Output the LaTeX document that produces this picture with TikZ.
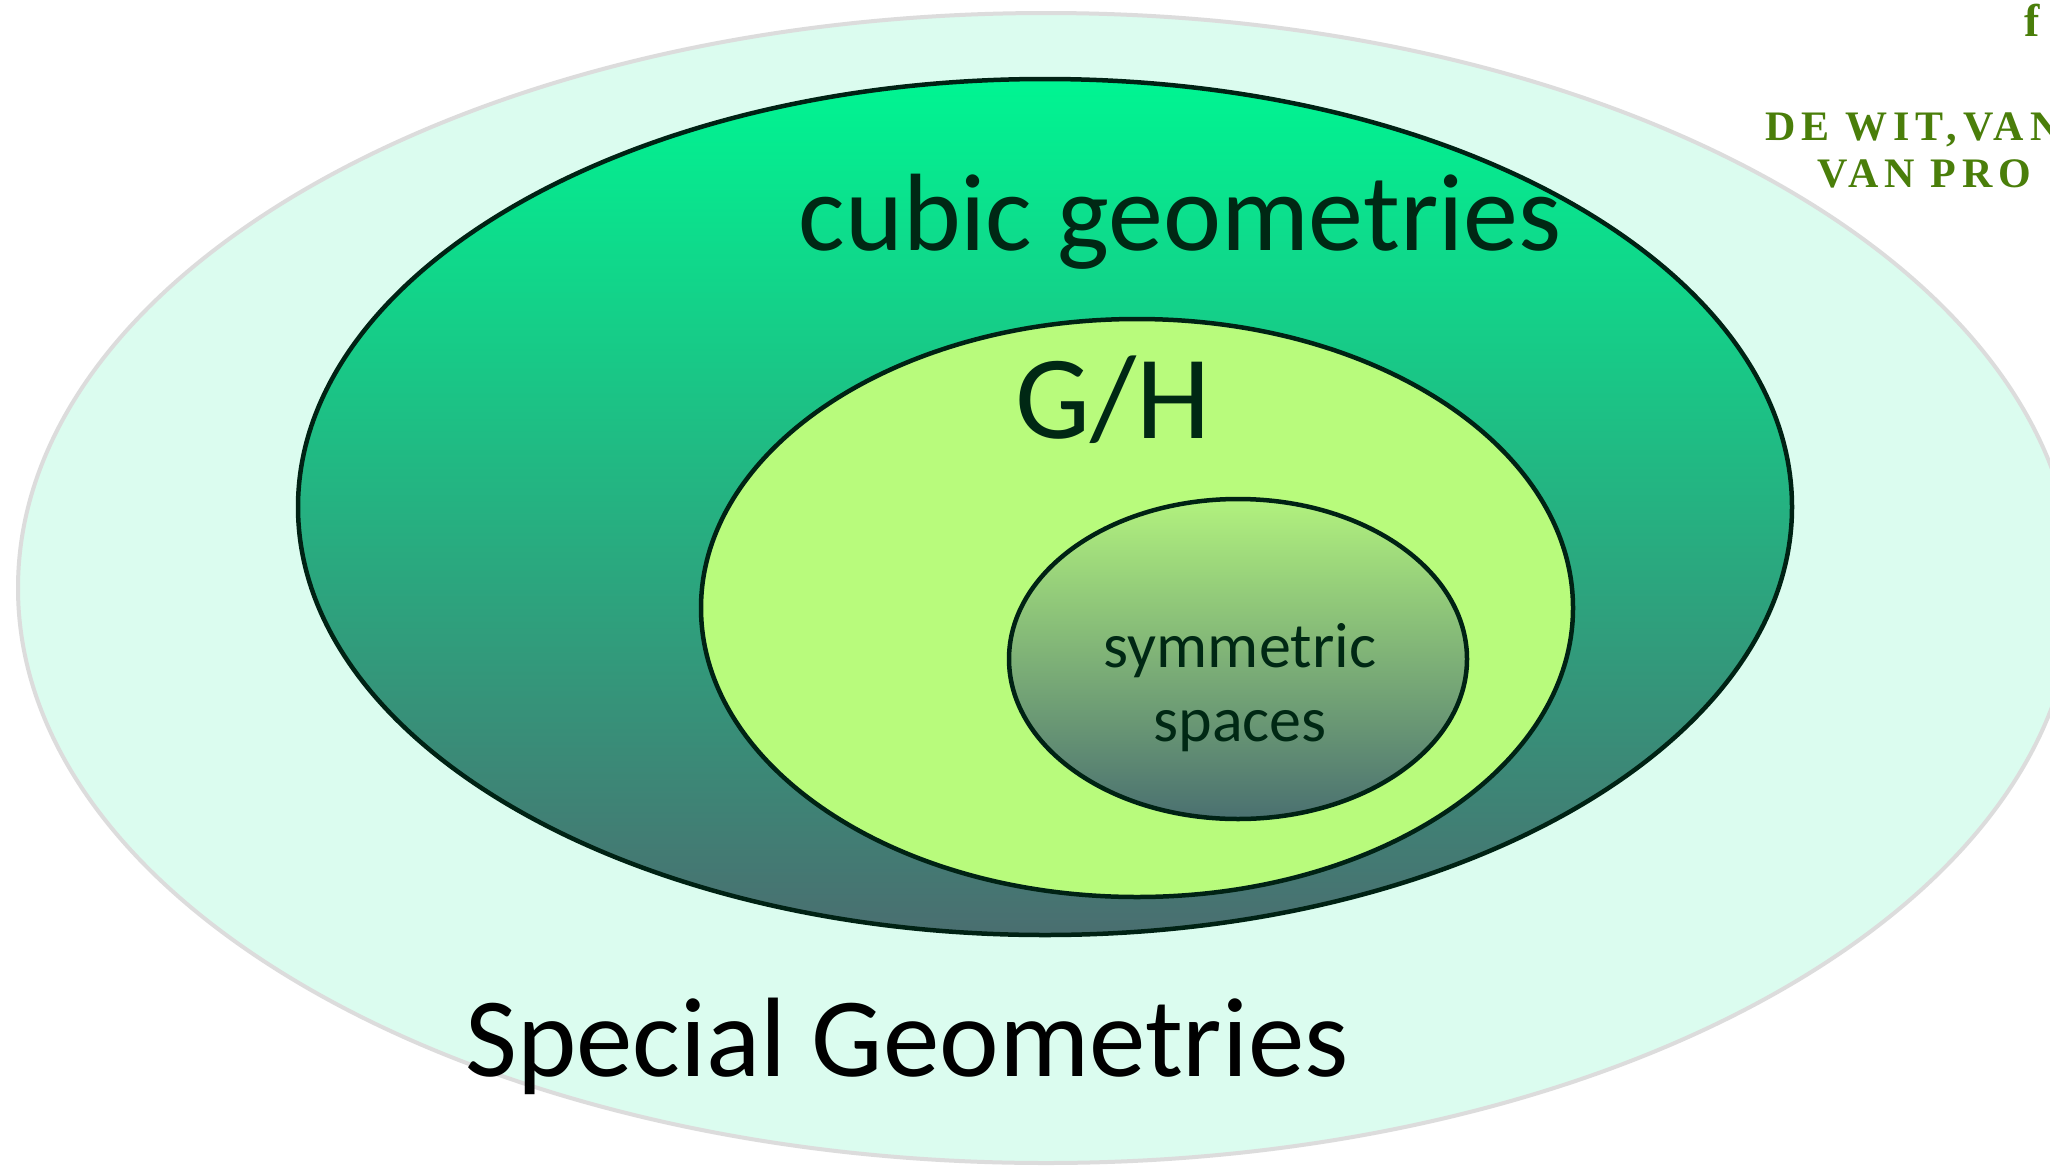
\documentclass[tikz,border=0pt]{standalone}
\usepackage{fontspec}
\setmainfont{Carlito}
\newfontfamily\reffont[LetterSpace=14]{Liberation Serif}
\definecolor{outerfill}{HTML}{DBFCEF}
\definecolor{outerline}{HTML}{DCDCDC}
\definecolor{cubictop}{HTML}{00F592}
\definecolor{cubicmid}{HTML}{0DC482}
\definecolor{cubicbot}{HTML}{4A6E70}
\definecolor{ghfill}{HTML}{B8FB7C}
\definecolor{symtop}{HTML}{B2F27E}
\definecolor{symbot}{HTML}{4A7070}
\definecolor{edge}{HTML}{002214}
\definecolor{labelc}{HTML}{002814}
\definecolor{refc}{HTML}{4A7E0A}
\tikzset{
  ringline/.style={draw=edge, line width=4.5pt},
  biglabel/.style={inner sep=0pt, anchor=base, text=labelc},
  reflabel/.style={inner sep=0pt, anchor=base west, text=refc, font=\reffont\bfseries\fontsize{42}{46}\selectfont},
}
\begin{document}
\begin{tikzpicture}[x=1pt,y=-1pt]
\useasboundingbox (0,0) rectangle (2050,1165);
\fill[white] (0,0) rectangle (2050,1165);
% outer ellipse
\filldraw[fill=outerfill, draw=outerline, line width=4pt] (1046,588) ellipse [x radius=1028pt, y radius=575pt];
% cubic ellipse
\shade[top color=cubictop, middle color=cubicmid, bottom color=cubicbot] (1045,507) ellipse [x radius=747pt, y radius=428pt];
\draw[ringline] (1045,507) ellipse [x radius=747pt, y radius=428pt];
% G/H ellipse
\filldraw[fill=ghfill, ringline] (1137,608) ellipse [x radius=436pt, y radius=289pt];
% symmetric ellipse
\shade[top color=symtop, bottom color=symbot] (1238,659) ellipse [x radius=229pt, y radius=160pt];
\draw[ringline] (1238,659) ellipse [x radius=229pt, y radius=160pt];
% labels
\node[biglabel, font=\fontsize{110}{120}\selectfont] (cubic) at (1180,250) {cubic geometries};
\node[biglabel, font=\fontsize{119}{124}\selectfont] (gh) at (1113,438) {G/H};
\node[biglabel, font=\fontsize{64}{70}\selectfont] (sym1) at (1240,667) {symmetric};
\node[biglabel, font=\fontsize{64}{70}\selectfont] (sym2) at (1240,741) {spaces};
\node[biglabel, text=black, font=\fontsize{113}{120}\selectfont] (special) at (907,1076) {Special Geometries};
\node[reflabel] (ref1) at (1765,140) {DE WIT,VAN};
\node[reflabel] (ref2) at (1817,187) {VAN PRO};
\node[reflabel, font=\reffont\bfseries\fontsize{46}{50}\selectfont] (reff) at (2024,36) {f};
\end{tikzpicture}
\end{document}
